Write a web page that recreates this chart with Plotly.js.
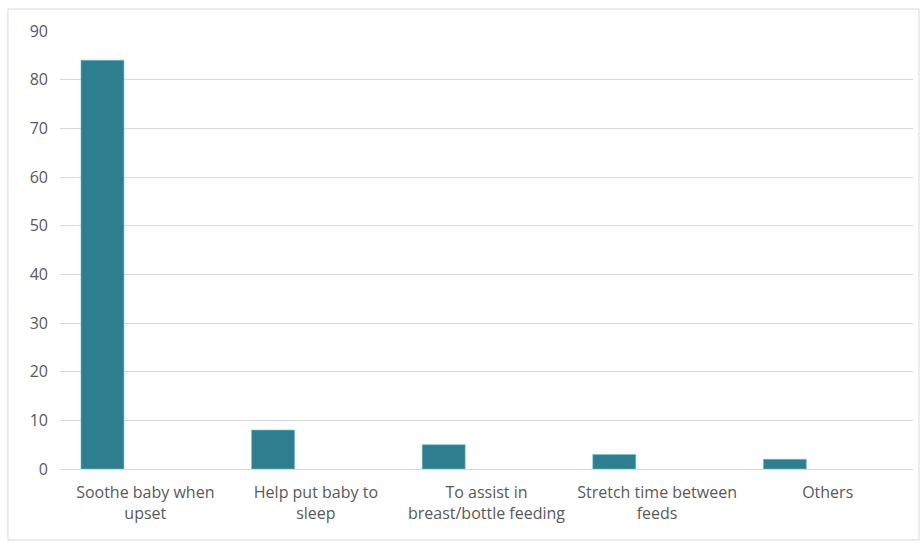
<!DOCTYPE html>
<html>
<head>
<meta charset="utf-8">
<script src="https://cdn.plot.ly/plotly-3.0.1.min.js"></script>
<style>html,body{margin:0;padding:0;background:#fff;}#chart{width:920px;height:543px;}</style>
</head>
<body>
<div id="chart"></div>
<script>
const categories = ["Soothe baby when<br>upset", "Help put baby to<br>sleep", "To assist in<br>breast/bottle feeding", "Stretch time between<br>feeds", "Others"];
const values = [84, 8, 5, 3, 2];
const yTicks = [0, 10, 20, 30, 40, 50, 60, 70, 80, 90];

const trace = {
  type: 'bar',
  x: categories,
  y: values,
  width: 0.252,
  offset: -0.377,
  marker: {color: '#2e7e8f', line: {color: '#6fc3cf', width: 0.6}},
  hoverinfo: 'x+y'
};

const layout = {
  width: 920, height: 543,
  margin: {l: 60, r: 7, t: 31, b: 74},
  paper_bgcolor: '#ffffff',
  plot_bgcolor: '#ffffff',
  showlegend: false,
  font: {family: '"Open Sans", "Noto Sans", sans-serif', color: '#595959', size: 16},
  xaxis: {
    type: 'category',
    showgrid: false,
    showline: false,
    zeroline: false,
    ticks: '',
    tickfont: {size: 16, color: '#595959'},
    ticklabelstandoff: 12
  },
  yaxis: {
    range: [0, 90],
    tickvals: yTicks,
    ticktext: yTicks.map(String),
    showgrid: true,
    gridcolor: '#d9d9d9',
    gridwidth: 1,
    zeroline: true,
    zerolinecolor: '#d9d9d9',
    zerolinewidth: 1,
    showline: false,
    ticks: '',
    tickfont: {size: 16, color: '#595959'},
    ticklabelstandoff: 11
  },
  shapes: [{
    type: 'rect', xref: 'paper', yref: 'paper',
    x0: -0.061, x1: 1.007, y0: -0.162, y1: 1.050,
    line: {color: '#d9d9d9', width: 1},
    fillcolor: 'rgba(0,0,0,0)',
    layer: 'below'
  }]
};

Plotly.newPlot('chart', [trace], layout, {displayModeBar: false, staticPlot: true});
</script>
</body>
</html>
